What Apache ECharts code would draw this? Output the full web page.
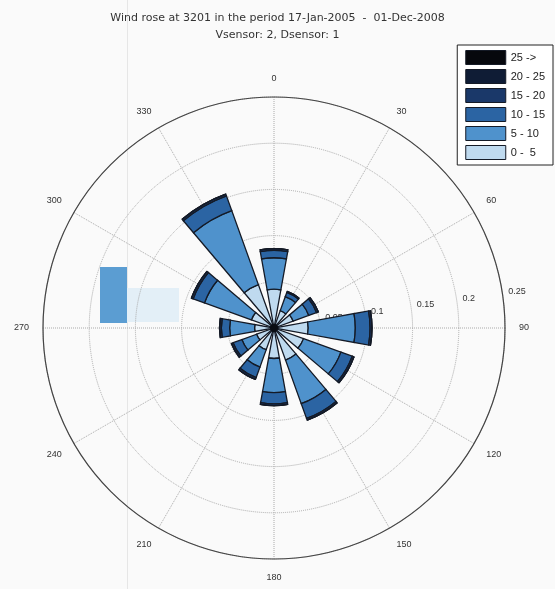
<!DOCTYPE html>
<html>
<head>
<meta charset="utf-8">
<title>Wind rose</title>
<script src="https://cdn.jsdelivr.net/npm/echarts@6/dist/echarts.min.js"></script>
<style>
  html, body { margin: 0; padding: 0; background: #fafafa; }
  #rose { width: 555px; height: 589px; }
</style>
</head>
<body>
<div id="rose"></div>
<script>
// 方向（度）
const directions = ['0', '30', '60', '90', '120', '150', '180', '210', '240', '270', '300', '330']
// 各风速段的频率
const speed0to5 = [0.042, 0.020, 0.022, 0.037, 0.034, 0.037, 0.033, 0.025, 0.020, 0.021, 0.026, 0.050]
const speed5to10 = [0.034, 0.016, 0.018, 0.051, 0.043, 0.050, 0.037, 0.020, 0.017, 0.027, 0.054, 0.085]
const speed10to15 = [0.008, 0.005, 0.009, 0.016, 0.013, 0.017, 0.012, 0.012, 0.010, 0.009, 0.013, 0.017]
const speed15to20 = [0.002, 0.001, 0.002, 0.002, 0.002, 0.002, 0.002, 0.002, 0.002, 0.002, 0.002, 0.002]
const speed20to25 = [0, 0, 0, 0, 0, 0, 0, 0, 0, 0, 0, 0]
const speed25up = [0, 0, 0, 0, 0, 0, 0, 0, 0, 0, 0, 0]
// 半径刻度
const radiusTicks = [0.05, 0.1, 0.15, 0.2, 0.25]

const bins = [
  { name: '0 -  5', data: speed0to5, color: '#bfdaef' },
  { name: '5 - 10', data: speed5to10, color: '#4f92cc' },
  { name: '10 - 15', data: speed10to15, color: '#2b64a3' },
  { name: '15 - 20', data: speed15to20, color: '#1a3869' },
  { name: '20 - 25', data: speed20to25, color: '#0f1c35' },
  { name: '25 ->', data: speed25up, color: '#06080d' }
]

const center = [274, 328]
const radius = 231
const rMax = radiusTicks[radiusTicks.length - 1]
const edge = '#141a26'

let chart = echarts.init(document.getElementById('rose'))
let option = {
  backgroundColor: '#fafafa',
  animation: false,
  title: {
    text: 'Wind rose at 3201 in the period 17-Jan-2005  -  01-Dec-2008\nVsensor: 2, Dsensor: 1',
    left: 'center',
    top: 5,
    textStyle: {
      color: '#333',
      fontSize: 11,
      fontWeight: 'normal',
      fontFamily: 'DejaVu Sans',
      lineHeight: 17
    }
  },
  legend: {
    orient: 'vertical',
    right: 2,
    top: 45,
    itemWidth: 40,
    itemHeight: 14,
    itemGap: 4,
    padding: [5, 8, 5, 8],
    borderColor: '#222',
    borderWidth: 1,
    backgroundColor: '#fff',
    borderRadius: 0,
    textStyle: { fontSize: 11, color: '#222', fontFamily: 'Liberation Sans' },
    data: bins.slice().reverse().map(b => ({
      name: b.name,
      icon: 'rect',
      itemStyle: { borderColor: edge, borderWidth: 1 }
    }))
  },
  // 0: 网格和角度标签, 1: 花瓣, 2: 半径标签
  polar: [
    { center: center, radius: radius },
    { center: center, radius: radius },
    { center: center, radius: radius }
  ],
  angleAxis: [
    {
      polarIndex: 0,
      type: 'value',
      min: 0,
      max: 360,
      interval: 30,
      startAngle: 90,
      clockwise: true,
      axisLine: { lineStyle: { color: '#444', width: 1.2 } },
      axisTick: { show: false },
      axisLabel: { margin: 14, color: '#333', fontSize: 9, fontFamily: 'Liberation Sans' },
      splitLine: { lineStyle: { color: '#aaa', type: 'dotted', width: 1 } }
    },
    {
      polarIndex: 1,
      type: 'category',
      data: directions,
      startAngle: 105,
      clockwise: true,
      show: false
    },
    {
      polarIndex: 2,
      type: 'value',
      min: 0,
      max: 360,
      startAngle: 8,
      show: false
    }
  ],
  radiusAxis: [
    {
      polarIndex: 0,
      type: 'value',
      min: 0,
      max: rMax,
      interval: 0.05,
      axisLine: { show: false },
      axisTick: { show: false },
      axisLabel: { show: false },
      splitLine: { lineStyle: { color: '#aaa', type: 'dotted', width: 1 } }
    },
    {
      polarIndex: 1,
      type: 'value',
      min: 0,
      max: rMax,
      show: false
    },
    {
      polarIndex: 2,
      type: 'value',
      min: 0,
      max: rMax,
      interval: 0.05,
      axisLine: { show: false },
      axisTick: { show: false },
      splitLine: { show: false },
      axisLabel: {
        color: '#333',
        fontSize: 9,
        fontFamily: 'Liberation Sans',
        margin: 4,
        align: 'left',
        padding: [0, 0, 0, 6],
        formatter: v => (v === 0 ? '' : String(+v.toFixed(2)))
      }
    }
  ],
  series: bins.map(b => ({
    name: b.name,
    type: 'bar',
    coordinateSystem: 'polar',
    polarIndex: 1,
    stack: 'rose',
    barWidth: '68%',
    data: b.data,
    itemStyle: {
      color: b.color,
      borderColor: edge,
      borderWidth: 1.3
    }
  })),
  graphic: [
    // 扫描图上的杂点
    {
      type: 'rect',
      silent: true,
      z: -1,
      shape: { x: 127, y: 0, width: 1, height: 589 },
      style: { fill: '#e6e6e6' }
    },
    {
      type: 'rect',
      silent: true,
      shape: { x: 127, y: 288, width: 52, height: 34 },
      style: { fill: '#e3eff7' }
    },
    {
      type: 'rect',
      silent: true,
      shape: { x: 100, y: 267, width: 27, height: 56 },
      style: { fill: '#5b9dd2' }
    },
    // 中心黑点
    {
      type: 'circle',
      silent: true,
      z: 100,
      shape: { cx: center[0], cy: center[1], r: 4 },
      style: { fill: '#0a0d14' }
    }
  ]
}
chart.setOption(option, true)
</script>
</body>
</html>
